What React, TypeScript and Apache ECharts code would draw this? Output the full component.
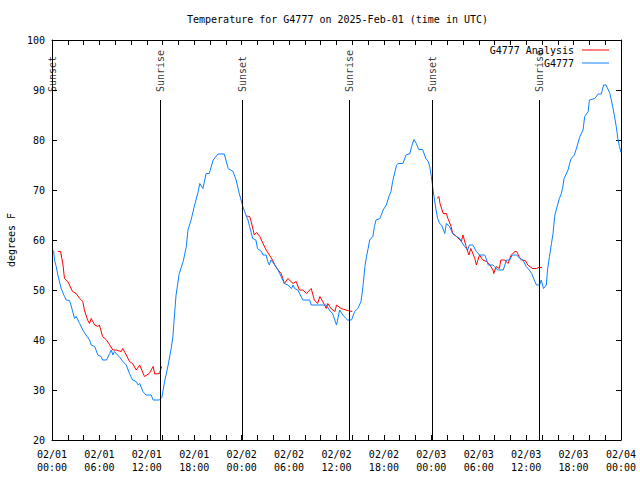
import React, { useEffect, useRef } from "react";
import * as echarts from "echarts";

const TITLE = "Temperature for G4777 on 2025-Feb-01 (time in UTC)";
const Y_NAME = "degrees F";

// x tick labels every 6 hours (hours since 02/01 00:00 UTC)
const xTickLabels = [
  "02/01\n00:00", "02/01\n06:00", "02/01\n12:00", "02/01\n18:00",
  "02/02\n00:00", "02/02\n06:00", "02/02\n12:00", "02/02\n18:00",
  "02/03\n00:00", "02/03\n06:00", "02/03\n12:00", "02/03\n18:00",
  "02/04\n00:00",
];

// Observed (G4777)
const obsHours = [
  0.2, 0.32, 0.53, 0.74, 1.16, 1.58, 1.8, 2.2, 2.4, 2.85, 3.06, 3.5, 3.9, 4.3, 4.75, 4.96, 5.4, 5.8, 6.2, 6.4,
  6.9, 7.3, 7.5, 7.7, 7.9, 8.3, 8.5, 8.96, 9.4, 9.8, 10.2, 10.65, 10.9, 11.1, 11.5, 11.9, 12.55, 12.8, 13.6, 13.9,
  14.2, 14.7, 15.1, 15.3, 15.5, 15.7, 16.1, 16.6, 17.0, 17.2, 17.6, 18.0, 18.5, 18.7, 19.1, 19.5, 19.9, 20.4, 21.0, 21.8,
  22.3, 22.9, 23.3, 23.7, 24.15, 24.6, 24.8, 25.0, 25.4, 25.8, 26.0, 26.5, 26.7, 27.1, 27.3, 27.5, 27.7, 28.2, 28.6, 29.0,
  29.4, 29.85, 30.3, 30.5, 30.7, 31.1, 31.75, 32.6, 32.8, 34.7, 35.1, 35.5, 36.0, 36.4, 36.8, 37.2, 37.4, 37.9, 38.3, 38.7,
  39.1, 39.3, 39.6, 39.8, 40.0, 40.2, 40.6, 40.8, 41.0, 41.5, 41.9, 42.3, 42.7, 42.9, 43.1, 43.6, 43.8, 44.4, 44.8, 45.3,
  45.5, 45.8, 46.1, 46.4, 46.9, 47.3, 47.6, 47.8, 48.0, 48.2, 48.4, 48.6, 48.8, 49.05, 49.3, 49.7, 49.9, 50.3, 50.7, 51.2,
  51.6, 51.8, 52.2, 52.6, 52.8, 53.25, 53.7, 54.1, 54.75, 55.0, 55.2, 55.8, 56.0, 56.4, 57.1, 57.3, 57.5, 57.9, 58.25, 58.8,
  59.2, 59.6, 60.0, 60.4, 60.7, 61.1, 61.3, 61.7, 61.9, 62.2, 62.55, 62.7, 62.95, 63.2, 63.4, 63.6, 63.8, 64.2, 64.45, 64.6,
  64.8, 65.3, 65.5, 65.7, 66.1, 66.3, 66.8, 67.2, 67.4, 67.85, 68.0, 68.7, 69.1, 69.5, 69.8, 70.1, 70.6, 71.0, 71.4, 71.6,
  71.8, 72.0,
];
const obsTemps = [
  57.9, 56, 54.7, 53, 50.3, 48.7, 48, 47.9, 47, 44.3, 44.7, 43.3, 42, 41, 40, 39, 38.7, 37, 36.7, 36,
  36, 37.3, 38, 37, 37.7, 37, 36.7, 35.7, 35, 33.3, 32, 31.7, 31, 31.3, 29.7, 29, 29, 28, 28, 28.5,
  31.3, 35, 38.5, 40.7, 45, 49, 53.3, 55.7, 58.7, 62, 64, 66.7, 69.7, 71.3, 70.3, 73.3, 73.3, 76, 77.2, 77.2,
  74.3, 73.7, 72, 69.3, 66.7, 64.7, 64, 62.7, 60.3, 60, 58.3, 57.7, 57, 57, 55.7, 55, 56, 55, 54, 52.7,
  51.3, 51, 50.3, 51, 50.3, 50, 48, 48, 47, 47, 46, 45.3, 43, 46, 45, 44.3, 44, 44, 45.7, 46.3,
  47.7, 50, 54.7, 56.7, 58.3, 60, 60.7, 62.7, 64, 64.3, 66, 67, 69, 69.7, 71.7, 75, 75.3, 75.3, 77, 77.3,
  78.7, 80.1, 79.3, 78.1, 78.1, 76.3, 75.7, 74.7, 72.7, 70.3, 68, 66, 64.3, 63.3, 63, 61.3, 63.3, 62.7, 61.3, 60.7,
  60.3, 59.7, 58.7, 58, 59, 59, 57.7, 57, 57, 56, 55, 55, 54.7, 54, 54, 55, 56, 56, 57, 57,
  56.3, 56, 54.7, 54, 53.3, 51.7, 51, 51, 52, 50.3, 51, 54, 56.7, 59.3, 61.3, 64.7, 66, 68.3, 69.3, 70.3,
  72.3, 74, 75.3, 76.3, 77, 78, 80.7, 82, 84.7, 85.7, 88, 88.3, 89.2, 89.2, 91, 91, 89.3, 86.3, 82.7, 80.3,
  78.7, 77.5,
];

// Analysis (G4777 Analysis), three overnight segments
const anaHours1 = [0.74, 1.08, 1.37, 1.58, 2.0, 2.6, 3.06, 3.5, 3.9, 4.1, 4.5, 4.75, 4.96, 5.4, 5.8, 6.0, 6.4, 6.9, 7.3, 7.7, 8.1, 8.76, 8.96, 9.4, 9.8, 10.2, 10.65, 11.1, 11.7, 12.3, 12.8, 13.0, 13.6, 13.8, 13.9];
const anaTemps1 = [57.7, 57.7, 55.3, 52.3, 51.7, 49.7, 49.3, 48.3, 47.7, 46, 44, 43.3, 44.3, 43, 42.7, 43, 40.7, 40, 39, 38, 38, 37.7, 38.3, 37, 35.7, 35.3, 34, 35, 32.7, 33.3, 34.7, 33.2, 33.3, 34.3, 34.7];
const anaHours2 = [24.6, 25.0, 25.2, 25.6, 25.9, 26.3, 26.7, 27.1, 27.5, 27.9, 28.2, 28.6, 29.0, 29.4, 29.85, 30.5, 30.9, 31.3, 31.75, 32.2, 32.8, 33.2, 33.6, 33.9, 34.5, 34.7, 34.9, 35.3, 35.8, 36.0, 36.6, 37.2, 38.0];
const anaTemps2 = [64.8, 64.7, 63.7, 61, 61.5, 60.7, 59.3, 58, 57, 56, 55, 54, 53.3, 51.3, 52.3, 51.3, 51.7, 50, 50, 49.3, 50.3, 48, 47.3, 48.7, 47, 46.3, 47.3, 46.3, 45.7, 47, 46.3, 46, 45.7];
const anaHours3 = [48.7, 48.96, 49.1, 49.5, 49.9, 50.1, 50.5, 50.7, 51.2, 51.8, 52.0, 52.4, 52.75, 53.0, 53.5, 53.7, 54.1, 54.5, 55.0, 55.4, 55.8, 55.9, 56.2, 56.6, 56.8, 57.3, 57.7, 58.1, 58.6, 58.8, 59.1, 59.4, 59.9, 60.2, 60.8, 61.3, 61.6, 62.0];
const anaTemps3 = [68.3, 68.7, 67.3, 65.3, 65.3, 64.3, 62.7, 61.3, 60.7, 59.7, 61, 58.7, 57, 58.3, 56.3, 55, 57, 56, 55.7, 55, 54, 53.3, 54.7, 54.3, 56, 56, 55.3, 57, 57.7, 57.7, 56.7, 56, 55.9, 55, 54.3, 54.3, 54.5, 54.5];

// Sunrise / sunset events (hours)
const sunHours = [0, 13.7, 24.1, 37.6, 48.15, 61.7];
const sunNames = ["Sunset", "Sunrise", "Sunset", "Sunrise", "Sunset", "Sunrise"];

const FONT = "DejaVu Sans Mono";

export default function App() {
  const ref = useRef<HTMLDivElement>(null);

  useEffect(() => {
    document.body.style.margin = "0";
    if (!ref.current) return;
    const chart = echarts.init(ref.current, null, { renderer: "svg" });

    const obsData = obsHours.map((h, i) => [h, obsTemps[i]]);
    const anaData: any[] = [];
    const segs = [
      [anaHours1, anaTemps1],
      [anaHours2, anaTemps2],
      [anaHours3, anaTemps3],
    ];
    segs.forEach(([hs, ts], si) => {
      if (si > 0) anaData.push([(hs[0] + anaData[anaData.length - 1][0]) / 2, null]);
      hs.forEach((h, i) => anaData.push([h, ts[i]]));
    });

    const axisCommon = {
      type: "value" as const,
      min: 0,
      max: 72,
      interval: 6,
      axisLine: { show: true, onZero: false, lineStyle: { color: "#000", width: 1 } },
      axisTick: { show: true, inside: true, length: 5, lineStyle: { color: "#000" } },
      minorTick: { show: true, splitNumber: 3, length: 5, lineStyle: { color: "#000" } },
      splitLine: { show: false },
    };
    const yCommon = {
      type: "value" as const,
      min: 20,
      max: 100,
      interval: 10,
      axisLine: { show: true, onZero: false, lineStyle: { color: "#000", width: 1 } },
      axisTick: { show: true, inside: true, length: 5, lineStyle: { color: "#000" } },
      splitLine: { show: false },
    };

    chart.setOption({
      animation: false,
      backgroundColor: "#fff",
      title: {
        text: TITLE,
        left: 187,
        top: 14,
        padding: 0,
        textStyle: { fontFamily: FONT, fontSize: 10, fontWeight: "normal", color: "#000" },
      },
      legend: {
        data: ["G4777 Analysis", "G4777"],
        orient: "vertical",
        align: "right",
        right: 31,
        top: 44,
        padding: 0,
        itemGap: 1,
        itemWidth: 27,
        itemHeight: 1,
        icon: "rect",
        textStyle: { fontFamily: FONT, fontSize: 10, color: "#000", lineHeight: 12, padding: [0, 3, 0, 0] },
      },
      grid: { left: 52, right: 19, top: 40, bottom: 40, containLabel: false, outerBoundsMode: "none" },
      xAxis: [
        {
          ...axisCommon,
          position: "bottom",
          axisLabel: {
            show: true,
            margin: 8,
            fontFamily: FONT,
            fontSize: 10,
            color: "#000",
            lineHeight: 13,
            formatter: (v: number) => xTickLabels[Math.round(v / 6)] ?? "",
          },
        },
        { ...axisCommon, position: "top", axisLabel: { show: false } },
      ],
      yAxis: [
        {
          ...yCommon,
          position: "left",
          name: Y_NAME,
          nameLocation: "middle",
          nameRotate: 90,
          nameGap: 36,
          nameTextStyle: { fontFamily: FONT, fontSize: 10, color: "#000" },
          axisLabel: { show: true, margin: 7, fontFamily: FONT, fontSize: 10, color: "#000" },
        },
        { ...yCommon, position: "right", axisLabel: { show: false } },
      ],
      series: [
        {
          name: "sun",
          type: "scatter",
          xAxisIndex: 0,
          yAxisIndex: 0,
          silent: true,
          symbolSize: 1,
          itemStyle: { color: "rgba(0,0,0,0)" },
          data: sunHours.map((h, i) => [h, 89.6, sunNames[i]]),
          label: {
            show: true,
            position: "inside",
            rotate: 90,
            align: "left",
            verticalAlign: "middle",
            fontFamily: FONT,
            fontSize: 10,
            color: "#000",
            formatter: (p: any) => p.data[2],
          },
          markLine: {
            silent: true,
            symbol: ["none", "none"],
            label: { show: false },
            lineStyle: { color: "#000", width: 1, type: "solid" },
            data: sunHours.map((h) => [{ coord: [h, 20] }, { coord: [h, 88] }]),
          },
          z: 1,
        },
        {
          name: "G4777 Analysis",
          type: "line",
          data: anaData,
          showSymbol: false,
          connectNulls: false,
          lineStyle: { color: "#ff0000", width: 1 },
          itemStyle: { color: "#ff0000" },
          z: 2,
        },
        {
          name: "G4777",
          type: "line",
          data: obsData,
          showSymbol: false,
          lineStyle: { color: "#0a80ff", width: 1 },
          itemStyle: { color: "#0a80ff" },
          z: 3,
        },
      ],
    });

    return () => chart.dispose();
  }, []);

  return <div ref={ref} style={{ width: 640, height: 480 }} />;
}
